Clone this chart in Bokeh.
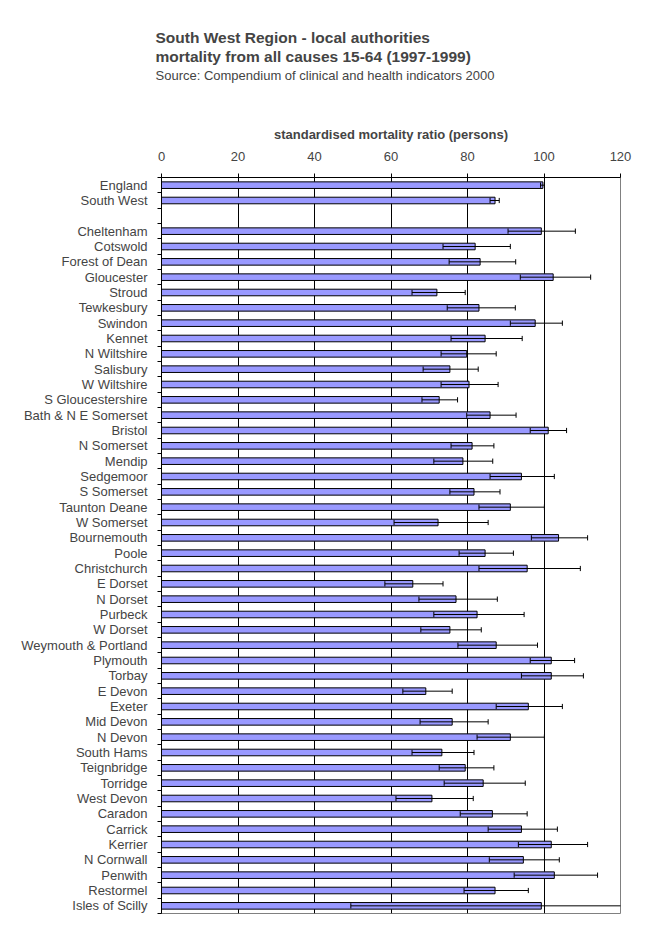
from bokeh.plotting import figure
from bokeh.models import Range1d, FixedTicker, ColumnDataSource, Title
from bokeh.embed import file_html
from bokeh.resources import INLINE

categories = ["England", "South West", "", "Cheltenham", "Cotswold", "Forest of Dean",
              "Gloucester", "Stroud", "Tewkesbury", "Swindon", "Kennet", "N Wiltshire",
              "Salisbury", "W Wiltshire", "S Gloucestershire", "Bath & N E Somerset",
              "Bristol", "N Somerset", "Mendip", "Sedgemoor", "S Somerset", "Taunton Deane",
              "W Somerset", "Bournemouth", "Poole", "Christchurch", "E Dorset", "N Dorset",
              "Purbeck", "W Dorset", "Weymouth & Portland", "Plymouth", "Torbay", "E Devon",
              "Exeter", "Mid Devon", "N Devon", "South Hams", "Teignbridge", "Torridge",
              "West Devon", "Caradon", "Carrick", "Kerrier", "N Cornwall", "Penwith",
              "Restormel", "Isles of Scilly"]

smr = [99.7, 87.2, None, 99.3, 82.0, 83.3, 102.4, 72.0, 83.0, 97.7, 84.6, 79.8,
       75.4, 80.4, 72.6, 85.9, 101.1, 81.2, 78.8, 94.1, 81.7, 91.2, 72.3, 103.8,
       84.6, 95.6, 65.7, 77.0, 82.5, 75.4, 87.5, 101.9, 101.9, 69.1, 95.9, 76.0,
       91.2, 73.3, 79.4, 84.1, 70.7, 86.5, 94.1, 101.9, 94.6, 102.7, 87.2, 99.3]

ci_low = [99.1, 85.9, None, 90.6, 73.6, 75.2, 93.8, 65.5, 74.7, 91.2, 75.7, 73.1,
          68.4, 73.1, 68.1, 79.8, 96.4, 75.7, 71.2, 85.9, 75.4, 83.0, 60.8, 96.7,
          77.8, 83.0, 58.4, 67.3, 71.2, 67.8, 77.5, 96.4, 94.1, 63.1, 87.5, 67.6,
          82.5, 65.5, 72.6, 73.9, 61.3, 78.1, 85.4, 93.3, 85.7, 92.2, 79.1, 49.5]

ci_high = [100.1, 88.3, None, 108.2, 91.2, 92.6, 112.2, 79.4, 92.5, 104.8, 94.3, 87.5,
           82.8, 88.0, 77.4, 92.7, 105.9, 86.9, 86.6, 102.7, 88.5, 100.1, 85.4, 111.4,
           92.0, 109.5, 73.6, 87.8, 94.8, 83.6, 98.3, 108.0, 110.3, 76.0, 104.8, 85.4,
           100.1, 81.7, 86.9, 95.1, 81.5, 95.6, 103.5, 111.4, 104.0, 114.0, 95.9, 149.0]

x_ticks = [0, 20, 40, 60, 80, 100, 120]
grid_ticks = [20, 40, 60, 80, 100]

FONT = "Liberation Sans"

idx = [i for i, v in enumerate(smr) if v is not None]
src = ColumnDataSource(dict(
    y=idx,
    smr=[smr[i] for i in idx],
    lo=[ci_low[i] for i in idx],
    hi=[ci_high[i] for i in idx],
    cap_top=[i - 0.17 for i in idx],
    cap_bot=[i + 0.17 for i in idx],
))

n = len(categories)
p = figure(width=648, height=929, output_backend="svg", toolbar_location=None,
           x_range=Range1d(0, 120), y_range=Range1d(n - 0.5, -0.5),
           x_axis_location="above", min_border_left=161, min_border_right=28,
           min_border_bottom=16)

p.hbar(y="y", left=0, right="smr", height=0.43, source=src,
       fill_color="#9999FF", line_color="black", line_width=1)
p.segment(x0="lo", x1="hi", y0="y", y1="y", source=src, line_color="black", line_width=1)
p.segment(x0="lo", x1="lo", y0="cap_top", y1="cap_bot", source=src, line_color="black", line_width=1)
p.segment(x0="hi", x1="hi", y0="cap_top", y1="cap_bot", source=src, line_color="black", line_width=1)

# x axis (top)
xa = p.xaxis[0]
xa.ticker = FixedTicker(ticks=x_ticks)
xa.axis_label = "standardised mortality ratio (persons)"
xa.axis_label_text_font = FONT
xa.axis_label_text_font_style = "bold"
xa.axis_label_text_font_size = "13px"
xa.axis_label_standoff = 7
xa.major_label_text_font = FONT
xa.major_label_text_font_size = "13px"
xa.major_label_standoff = 13
xa.major_tick_in = 0
xa.major_tick_out = 4
xa.minor_tick_in = 0
xa.minor_tick_out = 0
xa.axis_line_color = "black"
xa.major_tick_line_color = "black"

# y axis (left)
ya = p.yaxis[0]
ya.ticker = FixedTicker(ticks=list(range(n)), minor_ticks=[i - 0.5 for i in range(n + 1)])
ya.major_label_overrides = {i: c for i, c in enumerate(categories)}
ya.major_label_text_font = FONT
ya.major_label_text_font_size = "13px"
ya.major_label_standoff = 10
ya.major_tick_in = 0
ya.major_tick_out = 0
ya.minor_tick_in = 0
ya.minor_tick_out = 4
ya.axis_line_color = "black"
ya.minor_tick_line_color = "black"

p.xgrid.ticker = FixedTicker(ticks=grid_ticks)
p.xgrid.grid_line_color = "black"
p.ygrid.grid_line_color = None
p.outline_line_color = "#808080"
p.background_fill_color = "white"
p.border_fill_color = "white"

p.title.text = ""
# spacer between subtitle and axis label
p.add_layout(Title(text=" ", text_font=FONT, text_font_size="12px", standoff=23), "above")
p.add_layout(Title(text="Source: Compendium of clinical and health indicators 2000",
                   text_font=FONT, text_font_size="13px", text_font_style="normal",
                   align="left", offset=-6, standoff=3), "above")
p.add_layout(Title(text="mortality from all causes 15-64 (1997-1999)",
                   text_font=FONT, text_font_size="15.5px", text_font_style="bold",
                   align="left", offset=-6, standoff=0), "above")
p.add_layout(Title(text="South West Region - local authorities",
                   text_font=FONT, text_font_size="15.5px", text_font_style="bold",
                   align="left", offset=-6, standoff=0), "above")
# spacer at top
p.add_layout(Title(text=" ", text_font=FONT, text_font_size="12px", standoff=10), "above")

open("out.html", "w").write(file_html(p, INLINE))
